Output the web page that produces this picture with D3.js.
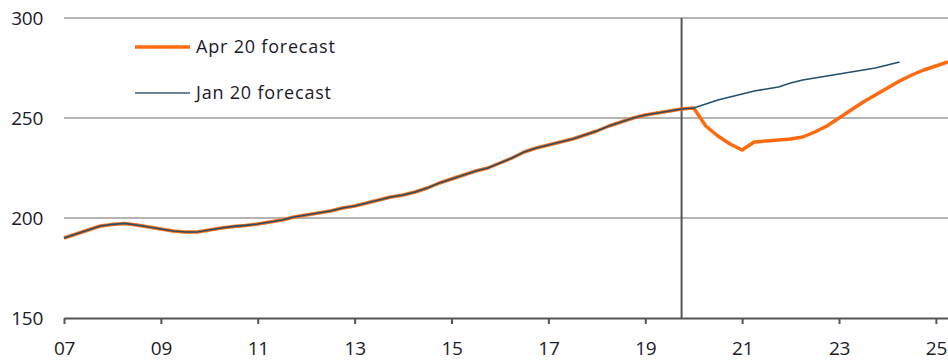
<!DOCTYPE html>
<html>
<head>
<meta charset="utf-8">
<script src="https://cdn.jsdelivr.net/npm/d3@7"></script>
<style>
  html, body { margin: 0; padding: 0; background: #fff; }
  svg text { font-family: "Open Sans", "Noto Sans", sans-serif; fill: #1a1a2a; }
</style>
</head>
<body>
<svg id="chart" width="948" height="362"></svg>
<script>
// Quarterly index, history 2007Q1 to 2020Q1 (shared by both forecasts)
const startYear = 2007;
const history = [
  190, 192, 194, 196,        // 2007
  196.8, 197.3, 196.5, 195.5,// 2008
  194.5, 193.5, 193, 193,    // 2009
  194, 195, 195.8, 196.3,    // 2010
  197, 198, 199, 200.5,      // 2011
  201.5, 202.5, 203.5, 205,  // 2012
  206, 207.5, 209, 210.5,    // 2013
  211.5, 213, 215, 217.5,    // 2014
  219.5, 221.5, 223.5, 225,  // 2015
  227.5, 230, 233, 235,      // 2016
  236.5, 238, 239.5, 241.5,  // 2017
  243.5, 246, 248, 250,      // 2018
  251.5, 252.5, 253.5, 254.5,// 2019
  255                        // 2020Q1
];
// Forecast paths from 2020Q2 onward
const aprForecast = [246, 241, 237, 234, 238, 238.5, 239, 239.5, 240.5, 243, 246, 250,
                     254, 258, 261.5, 265, 268.5, 271.5, 274, 276, 278];
const janForecast = [257, 259, 260.5, 262, 263.5, 264.5, 265.5, 267.5, 269, 270, 271,
                     272, 273, 274, 275, 276.5, 278];
const seriesNames = ["Apr 20 forecast", "Jan 20 forecast"];
const yTicks = [150, 200, 250, 300];
const xTickYears = [2007, 2009, 2011, 2013, 2015, 2017, 2019, 2021, 2023, 2025];
const markerYear = 2019.75;

const toPoints = (vals, offset) => vals.map((v, i) => ({ t: startYear + (offset + i) / 4, v }));
const hist = toPoints(history, 0);
const aprSeries = hist.concat(toPoints(aprForecast, history.length));
const janSeries = hist.concat(toPoints(janForecast, history.length));

const svg = d3.select("#chart");
const plotLeft = 64, plotRight = 948, plotTop = 18, plotBottom = 318;
const tickFont = 19;

const x = d3.scaleLinear().domain([2007, 2025.25]).range([plotLeft, plotRight]);
const y = d3.scaleLinear().domain([150, 300]).range([plotBottom, plotTop]);

// horizontal gridlines
svg.append("g").selectAll("line")
  .data(yTicks.filter(d => d > 150))
  .join("line")
  .attr("x1", plotLeft).attr("x2", plotRight)
  .attr("y1", d => y(d)).attr("y2", d => y(d))
  .attr("stroke", "#b4b4b4").attr("stroke-width", 2);

// y labels
svg.append("g").selectAll("text")
  .data(yTicks)
  .join("text")
  .attr("x", 43).attr("y", d => y(d))
  .attr("dy", "0.35em")
  .attr("text-anchor", "end")
  .attr("font-size", tickFont)
  .attr("letter-spacing", -0.3)
  .text(d => d);

// x axis
const xAxis = d3.axisBottom(x)
  .tickValues(xTickYears)
  .tickSize(6)
  .tickSizeOuter(0)
  .tickFormat(d => String(d % 100).padStart(2, "0"));
const gx = svg.append("g").attr("transform", `translate(0,${plotBottom})`).call(xAxis);
gx.select(".domain").attr("stroke", "#555").attr("stroke-width", 2);
gx.selectAll(".tick line").attr("stroke", "#555").attr("stroke-width", 2);
gx.selectAll(".tick text")
  .attr("font-size", tickFont)
  .attr("letter-spacing", -0.3)
  .attr("y", 24)
  .attr("fill", "#1a1a2a")
  .attr("font-family", "\"Open Sans\", \"Noto Sans\", sans-serif");

// vertical marker at the last observation
svg.append("line")
  .attr("x1", x(markerYear)).attr("x2", x(markerYear))
  .attr("y1", plotTop).attr("y2", plotBottom)
  .attr("stroke", "#555").attr("stroke-width", 2);

const line = d3.line().x(d => x(d.t)).y(d => y(d.v));

svg.append("path")
  .datum(aprSeries)
  .attr("d", line)
  .attr("fill", "none")
  .attr("stroke", "#ff6a0e")
  .attr("stroke-width", 3.5)
  .attr("stroke-linejoin", "round");

svg.append("path")
  .datum(janSeries)
  .attr("d", line)
  .attr("fill", "none")
  .attr("stroke", "#24506e")
  .attr("stroke-width", 1.6)
  .attr("stroke-linejoin", "round");

// legend
const legend = svg.append("g");
const legendItems = [
  { name: seriesNames[0], color: "#ff6a0e", width: 3.5, yPos: 47 },
  { name: seriesNames[1], color: "#3a5a70", width: 1.6, yPos: 93 }
];
legend.selectAll("line")
  .data(legendItems)
  .join("line")
  .attr("x1", 135).attr("x2", 190)
  .attr("y1", d => d.yPos).attr("y2", d => d.yPos)
  .attr("stroke", d => d.color)
  .attr("stroke-width", d => d.width);
legend.selectAll("text")
  .data(legendItems)
  .join("text")
  .attr("x", 196).attr("y", d => d.yPos)
  .attr("dy", "0.35em")
  .attr("font-size", 18)
  .attr("letter-spacing", 0.8)
  .text(d => d.name);
</script>
</body>
</html>
